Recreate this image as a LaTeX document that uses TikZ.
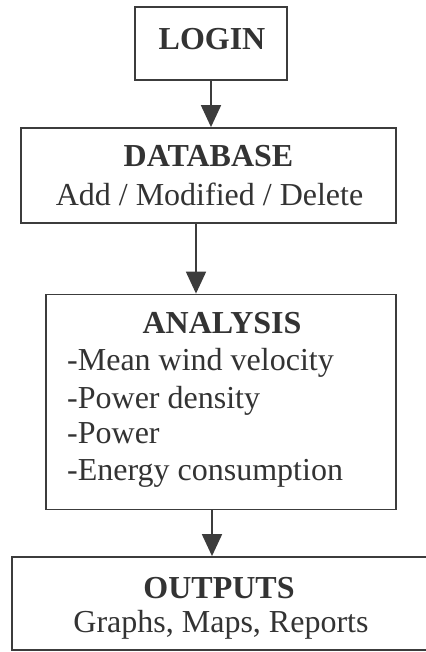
\documentclass[tikz,border=0pt]{standalone}
\usepackage{fontspec}
\setmainfont{Liberation Serif}
\usetikzlibrary{arrows.meta}
\definecolor{ink}{HTML}{333333}
\definecolor{frame}{HTML}{3C3C3C}
\begin{document}
\begin{tikzpicture}[x=1pt,y=-1pt,
  box/.style={draw=frame, line width=1.8pt, inner sep=0pt, anchor=center},
  head/.style={font=\fontsize{32}{38}\selectfont\bfseries, text=ink, inner sep=0pt, anchor=base},
  body/.style={font=\fontsize{32}{38}\selectfont, text=ink, inner sep=0pt, anchor=base},
  item/.style={body, anchor=base west},
  arr/.style={draw=frame, line width=1.8pt, -{Triangle[width=20pt,length=22pt]}}]
\useasboundingbox (0,0) rectangle (425,652);
\fill[white] (0,0) rectangle (425,652);
% boxes
\node[box, minimum width=152pt, minimum height=73pt] (login) at (211,43.5) {};
\node[box, minimum width=375pt, minimum height=95pt] (db) at (208.5,175.5) {};
\node[box, minimum width=350pt, minimum height=215pt] (an) at (221,402) {};
\node[box, minimum width=418pt, minimum height=93pt] (out) at (221,603.5) {};
% texts
\node[head] (tlogin) at (212,50) {LOGIN};
\node[head] (tdb) at (208.5,167) {DATABASE};
\node[body] (tdb2) at (209.5,205) {Add / Modified / Delete};
\node[head] (tan) at (222,333) {ANALYSIS};
\node[item] (i1) at (67,370) {-Mean wind velocity};
\node[item] (i2) at (67,408) {-Power density};
\node[item] (i3) at (67,443) {-Power};
\node[item] (i4) at (67,480) {-Energy consumption};
\node[head] (tout) at (219,598) {OUTPUTS};
\node[body] (tout2) at (221,632) {Graphs, Maps, Reports};
% connectors
\coordinate (a2) at (196,0);
\coordinate (a3) at (212,0);
\draw[arr] (login.south) -- (db.north -| login.south);
\draw[arr] (db.south -| a2) -- (an.north -| a2);
\draw[arr] (an.south -| a3) -- (out.north -| a3);
\end{tikzpicture}
\end{document}
